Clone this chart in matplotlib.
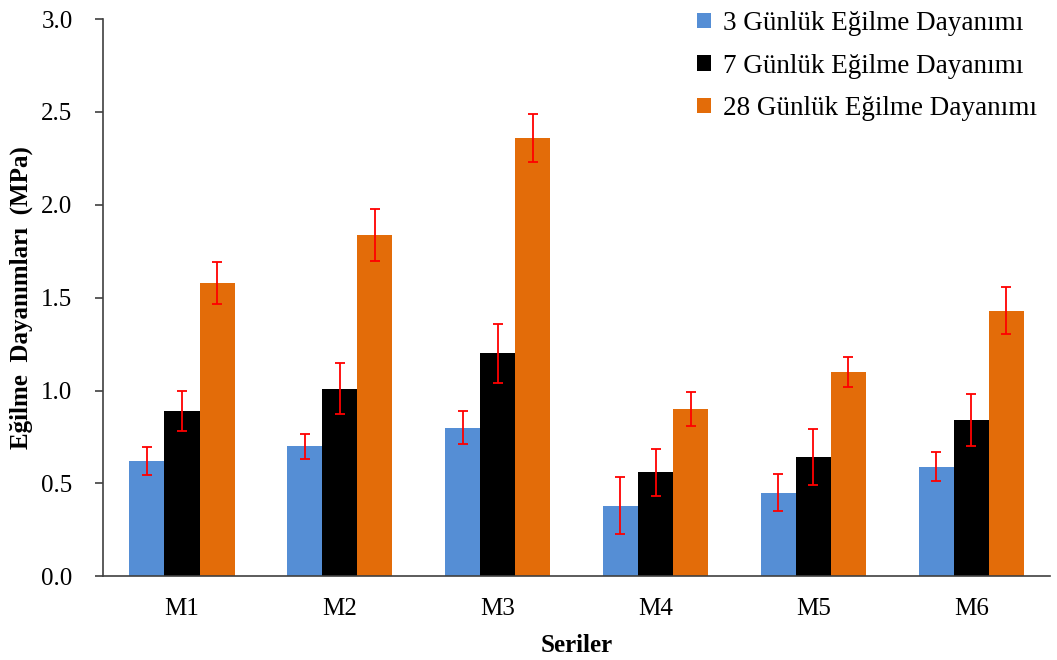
import numpy as np
import matplotlib
matplotlib.use("Agg")
import matplotlib.pyplot as plt

plt.rcParams['font.family'] = ['Liberation Serif', 'DejaVu Serif']

# Data
series = ['M1', 'M2', 'M3', 'M4', 'M5', 'M6']
labels = ['3 Günlük Eğilme Dayanımı', '7 Günlük Eğilme Dayanımı', '28 Günlük Eğilme Dayanımı']
day3 = [0.62, 0.70, 0.80, 0.38, 0.45, 0.59]
day7 = [0.89, 1.01, 1.20, 0.56, 0.64, 0.84]
day28 = [1.58, 1.84, 2.36, 0.90, 1.10, 1.43]
err3 = [0.076, 0.068, 0.090, 0.154, 0.099, 0.079]
err7 = [0.106, 0.137, 0.158, 0.127, 0.150, 0.140]
err28 = [0.113, 0.140, 0.130, 0.090, 0.083, 0.125]

colors = ['#558ED5', '#000000', '#E36C09']

fig = plt.figure(figsize=(10.57, 6.6), dpi=100)
ax = fig.add_axes([0.0975, 0.127, 0.896, 0.844])

x = np.arange(len(series))
w = 0.222
for i, (vals, errs) in enumerate(zip([day3, day7, day28], [err3, err7, err28])):
    ax.bar(x + (i - 1) * w, vals, w, color=colors[i], label=labels[i],
           yerr=errs, ecolor='#FF0000', capsize=3.5,
           error_kw=dict(elinewidth=1.3, capthick=1.3))

ax.set_xlim(-0.5, 5.5)
ax.set_ylim(0, 3.0)
ax.set_yticks(np.arange(0, 3.01, 0.5))
ax.set_yticklabels(['%.1f' % v for v in np.arange(0, 3.01, 0.5)])
ax.set_xticks(x)
ax.set_xticklabels(series)
ax.tick_params(axis='x', length=0, labelsize=18, pad=16)
ax.tick_params(axis='y', direction='out', length=6, width=1.2, labelsize=18,
               color='#404040', pad=16)

for s in ['top', 'right']:
    ax.spines[s].set_visible(False)
for s in ['left', 'bottom']:
    ax.spines[s].set_color('#404040')
    ax.spines[s].set_linewidth(1.2)

ax.set_xlabel('Seriler', fontsize=18, fontweight='bold', labelpad=10)
ax.set_ylabel('Eğilme  Dayanımları  (MPa)', fontsize=18, fontweight='bold', labelpad=6)

ax.legend(loc='upper right', bbox_to_anchor=(1.012, 1.058), frameon=False, fontsize=19.5,
          handlelength=0.5, handleheight=0.5, handletextpad=0.45, labelspacing=0.64)

fig.savefig('out.png', dpi=100)
